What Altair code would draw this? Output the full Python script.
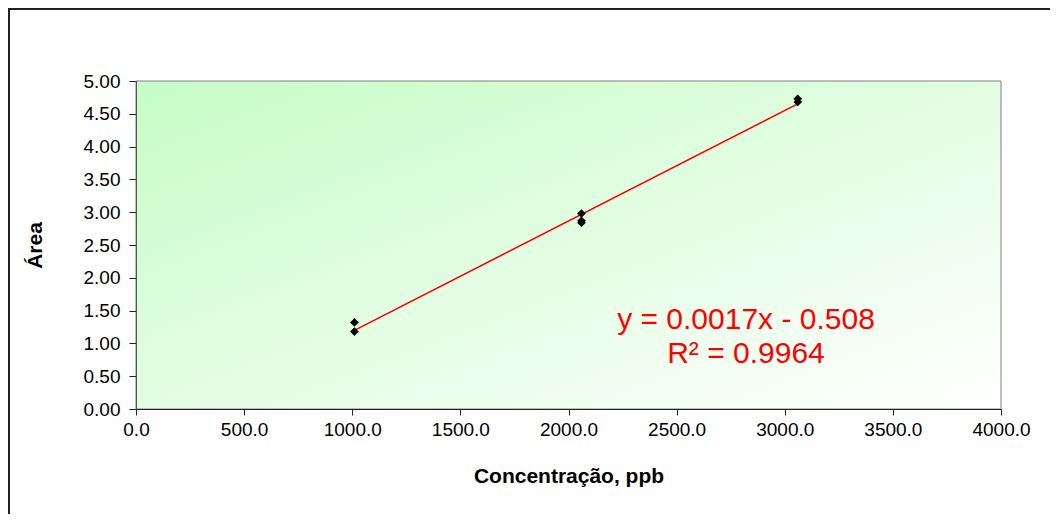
import altair as alt
import pandas as pd

conc = [1010, 1010, 2060, 2060, 2060, 3060, 3060]
area = [1.32, 1.18, 2.98, 2.87, 2.84, 4.73, 4.68]
eq_lines = ["y = 0.0017x - 0.508", "R² = 0.9964"]
x_ticks = [0, 500, 1000, 1500, 2000, 2500, 3000, 3500, 4000]
y_ticks = [0, 0.5, 1, 1.5, 2, 2.5, 3, 3.5, 4, 4.5, 5]

df = pd.DataFrame({"conc": conc, "area": area})
eq_df = pd.DataFrame({"t": eq_lines})
W, H = 865, 328
FONT = "Liberation Sans"

xs = alt.Scale(domain=[0, 4000], nice=False)
ys = alt.Scale(domain=[0, 5], nice=False)

frame = alt.Chart(eq_df).transform_filter(alt.datum.t == eq_lines[0]).mark_rect(
    fill="white", fillOpacity=0, stroke="#222222", strokeWidth=2
).encode(x=alt.value(-127), x2=alt.value(W + 300), y=alt.value(-72), y2=alt.value(H + 300))

bg = alt.Chart(eq_df).transform_filter(alt.datum.t == eq_lines[0]).mark_rect(
    fill=alt.Gradient(
        gradient="linear",
        stops=[alt.GradientStop(color="#c6fcc6", offset=0), alt.GradientStop(color="#ffffff", offset=1)],
        x1=0, y1=0, x2=1, y2=1,
    ),
    stroke="#808080", strokeWidth=1,
).encode(x=alt.value(0), x2=alt.value(W), y=alt.value(0), y2=alt.value(H))

xaxis = alt.Axis(title="Concentração, ppb", values=x_ticks, format=".1f", grid=False,
                 domainColor="#222222", tickColor="#222222", tickSize=6, zindex=2,
                 labelFontSize=19, labelFont=FONT, labelColor="#000000", labelPadding=5,
                 labelFlush=False,
                 titleFont=FONT, titleFontSize=21, titleFontWeight="bold",
                 titleColor="#000000", titlePadding=26)
yaxis = alt.Axis(title="Área", values=y_ticks, format=".2f", grid=False,
                 domainColor="#555555", tickColor="#222222", tickSize=7, zindex=2,
                 labelFontSize=19, labelFont=FONT, labelColor="#000000", labelPadding=9,
                 labelFlush=False,
                 titleFont=FONT, titleFontSize=21, titleFontWeight="bold",
                 titleColor="#000000", titlePadding=38)

pts = alt.Chart(df).mark_point(shape="diamond", filled=True, color="black", size=75, opacity=1).encode(
    x=alt.X("conc:Q", scale=xs, axis=xaxis),
    y=alt.Y("area:Q", scale=ys, axis=yaxis),
)

fit = alt.Chart(df).transform_regression("conc", "area").mark_line(color="#ff0000", strokeWidth=1.6).encode(
    x=alt.X("conc:Q", scale=xs, axis=xaxis), y=alt.Y("area:Q", scale=ys, axis=yaxis)
)

eq1 = alt.Chart(eq_df).transform_filter(alt.datum.t == eq_lines[0]).mark_text(
    color="#ff0000", fontSize=30, font=FONT, align="center", baseline="middle"
).encode(text="t:N", x=alt.value(610), y=alt.value(239))
eq2 = alt.Chart(eq_df).transform_filter(alt.datum.t == eq_lines[1]).mark_text(
    color="#ff0000", fontSize=30, font=FONT, align="center", baseline="middle"
).encode(text="t:N", x=alt.value(610), y=alt.value(273))

chart = alt.layer(frame, bg, fit, pts, eq1, eq2).properties(
    width=W, height=H,
    autosize=alt.AutoSizeParams(type="none"),
    padding={"left": 128, "top": 73, "right": 49, "bottom": 105},
).configure_view(stroke=None)

chart.save("out.html", embed_options={"renderer": "svg", "actions": False})
